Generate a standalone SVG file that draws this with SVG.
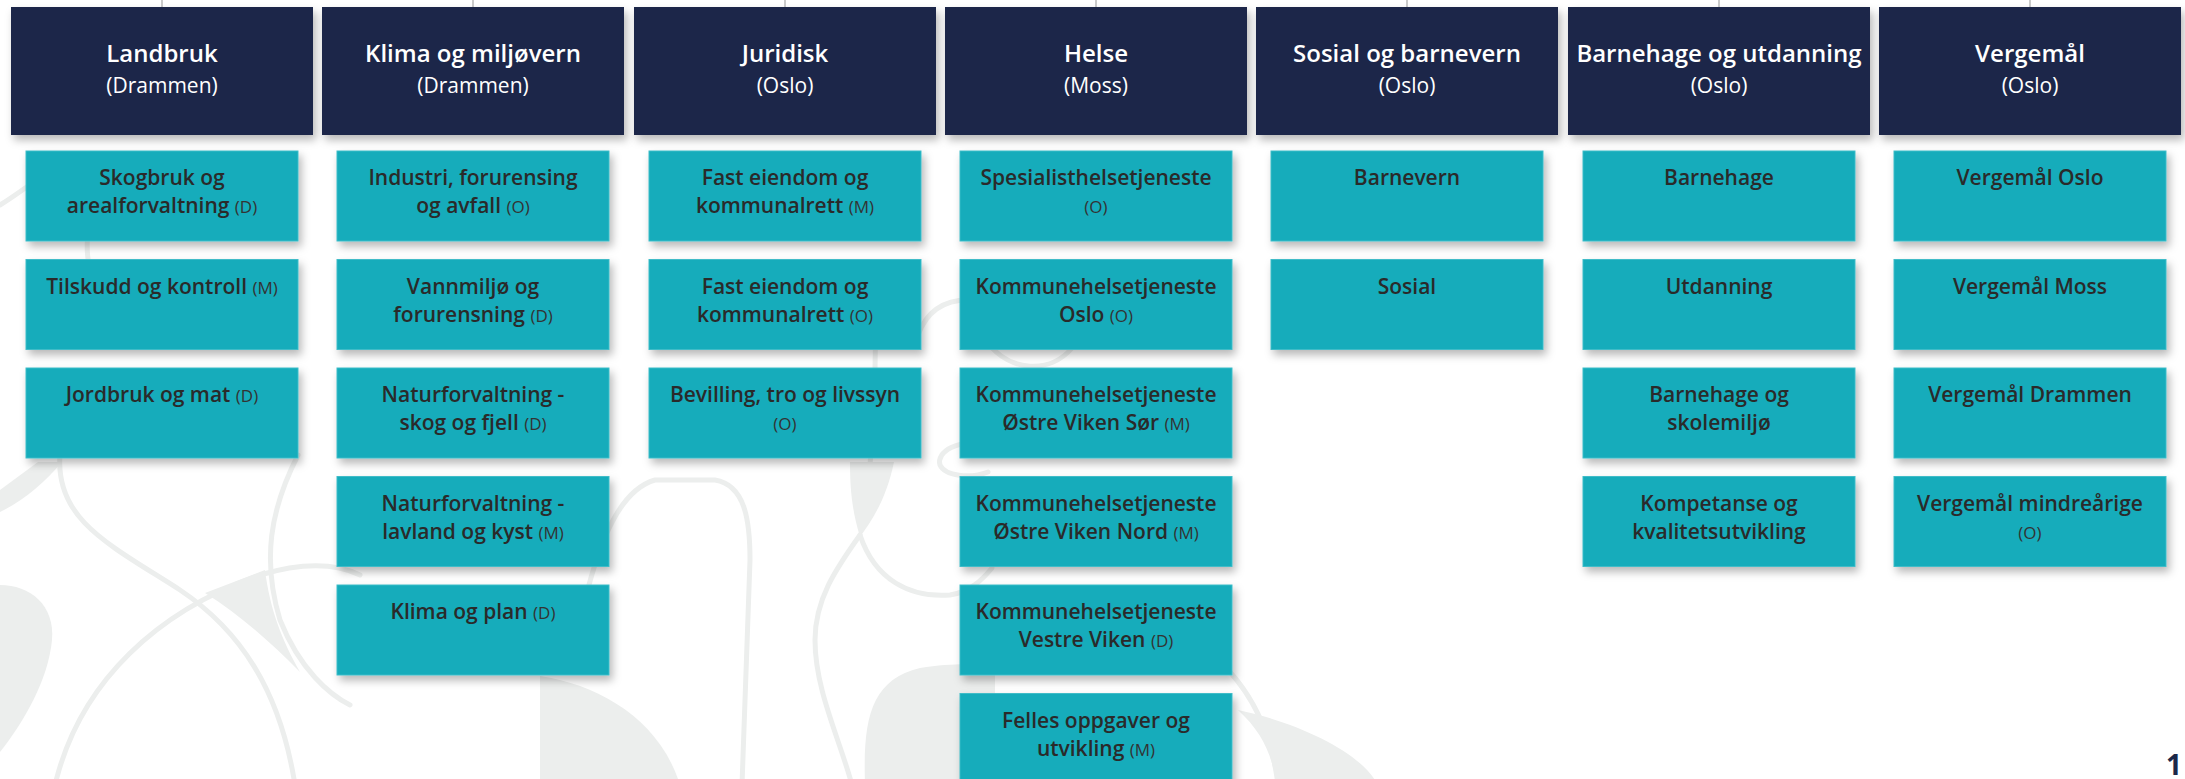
<svg xmlns="http://www.w3.org/2000/svg" width="2185" height="779" viewBox="0 0 2185 779">
<defs>
<filter id="sh" x="-10%" y="-15%" width="125%" height="140%">
<feDropShadow dx="3" dy="5" stdDeviation="4" flood-color="#000" flood-opacity="0.28"/>
</filter>
<style>
.bgl{fill:none;stroke:#eceeed;stroke-width:5;stroke-linecap:round}
.bgf{fill:#eceeed}
.hd rect{fill:#1c2849;filter:url(#sh)}
.hd text{fill:#ffffff;text-anchor:middle;font-family:'Open Sans','Noto Sans','DejaVu Sans',sans-serif}
.t{font-size:24px;font-weight:600}
.st{font-size:21px;font-weight:400}
.bx rect{fill:#12acbb;stroke:#3fbcc8;stroke-width:1;filter:url(#sh)}
.bx text{fill:#2a2a2a;text-anchor:middle;font-family:'Open Sans','Noto Sans','DejaVu Sans',sans-serif;font-size:21px;font-weight:600}
.sm{font-size:17px;font-weight:400;fill:#333333}
.cn line{stroke:#a8a8a8;stroke-width:1.2}
</style>
</defs>
<rect width="2185" height="779" fill="#ffffff"/>
<g id="background">
<path class="bgf" d="M0,585 C30,585 55,605 52,640 C48,680 25,720 0,752 Z"/>
<path class="bgf" d="M0,490 L0,512 C25,500 45,482 62,462 L38,462 Z"/>
<path class="bgl" d="M60,455 C55,520 110,545 180,590 C240,630 280,690 295,785"/>
<path class="bgl" d="M55,785 C80,680 160,610 260,575 C300,563 335,563 360,575"/>
<path class="bgl" d="M298,455 C270,510 262,560 280,620 C300,670 330,695 350,705"/>
<path class="bgf" d="M205,593 L265,570 C270,610 282,640 300,672 C268,640 240,615 205,593 Z"/>
<path class="bgl" d="M0,205 C12,198 22,190 34,182"/>
<path class="bgl" d="M88,230 C86,250 88,265 92,275"/>
<path class="bgl" d="M585,600 C600,540 620,490 655,480 L715,480 C745,485 750,520 750,560 L742,785"/>
<path class="bgf" d="M540,676 C600,685 660,720 680,785 L540,785 Z"/>
<path class="bgf" d="M850,462 L894,462 C886,500 872,520 860,537 C852,510 850,490 850,462 Z"/>
<path class="bgl" d="M860,535 C835,570 815,600 815,640 C815,690 840,740 852,785"/>
<path class="bgl" d="M860,535 C875,580 910,598 950,595 C970,592 982,580 992,568"/>
<path class="bgf" d="M865,785 C863,720 870,680 920,668 C950,663 970,664 995,665 L995,785 Z"/>
<path class="bgl" d="M988,445 C958,438 936,452 940,465 C945,476 970,479 988,472"/>
<path class="bgl" d="M875,300 C877,380 873,430 870,465"/>
<path class="bgl" d="M918,335 C928,308 948,300 968,300"/>
<path class="bgl" d="M988,343 C1010,372 1050,374 1072,348"/>
<path class="bgf" d="M1238,710 C1310,725 1385,765 1380,800 L1278,800 C1275,760 1265,735 1238,710 Z"/>
<path class="bgl" d="M1230,672 C1255,700 1272,735 1278,785"/>
</g>
<g id="connectors" class="cn">
<line x1="162" y1="0" x2="162" y2="7"/>
<line x1="473" y1="0" x2="473" y2="7"/>
<line x1="785" y1="0" x2="785" y2="7"/>
<line x1="1096" y1="0" x2="1096" y2="7"/>
<line x1="1407" y1="0" x2="1407" y2="7"/>
<line x1="1719" y1="0" x2="1719" y2="7"/>
<line x1="2030" y1="0" x2="2030" y2="7"/>
</g>
<g id="h-landbruk" class="hd"><rect x="11" y="7" width="302" height="128"/><text x="162" y="62" class="t">Landbruk</text><text x="162" y="93" class="st">(Drammen)</text></g>
<g id="h-klima" class="hd"><rect x="322" y="7" width="302" height="128"/><text x="473" y="62" class="t">Klima og miljøvern</text><text x="473" y="93" class="st">(Drammen)</text></g>
<g id="h-juridisk" class="hd"><rect x="634" y="7" width="302" height="128"/><text x="785" y="62" class="t">Juridisk</text><text x="785" y="93" class="st">(Oslo)</text></g>
<g id="h-helse" class="hd"><rect x="945" y="7" width="302" height="128"/><text x="1096" y="62" class="t">Helse</text><text x="1096" y="93" class="st">(Moss)</text></g>
<g id="h-sosial" class="hd"><rect x="1256" y="7" width="302" height="128"/><text x="1407" y="62" class="t">Sosial og barnevern</text><text x="1407" y="93" class="st">(Oslo)</text></g>
<g id="h-barnehage" class="hd"><rect x="1568" y="7" width="302" height="128"/><text x="1719" y="62" class="t">Barnehage og utdanning</text><text x="1719" y="93" class="st">(Oslo)</text></g>
<g id="h-vergemal" class="hd"><rect x="1879" y="7" width="302" height="128"/><text x="2030" y="62" class="t">Vergemål</text><text x="2030" y="93" class="st">(Oslo)</text></g>

<g id="landbruk-1" class="bx"><rect x="26" y="151" width="272" height="90"/><text x="162" y="185">Skogbruk og<tspan x="162" dy="28">arealforvaltning <tspan class="sm">(D)</tspan></tspan></text></g>
<g id="landbruk-2" class="bx"><rect x="26" y="259.5" width="272" height="90"/><text x="162" y="293.5">Tilskudd og kontroll <tspan class="sm">(M)</tspan></text></g>
<g id="landbruk-3" class="bx"><rect x="26" y="368" width="272" height="90"/><text x="162" y="402">Jordbruk og mat <tspan class="sm">(D)</tspan></text></g>

<g id="klima-1" class="bx"><rect x="337" y="151" width="272" height="90"/><text x="473" y="185">Industri, forurensing<tspan x="473" dy="28">og avfall <tspan class="sm">(O)</tspan></tspan></text></g>
<g id="klima-2" class="bx"><rect x="337" y="259.5" width="272" height="90"/><text x="473" y="293.5">Vannmiljø og<tspan x="473" dy="28">forurensning <tspan class="sm">(D)</tspan></tspan></text></g>
<g id="klima-3" class="bx"><rect x="337" y="368" width="272" height="90"/><text x="473" y="402">Naturforvaltning -<tspan x="473" dy="28">skog og fjell <tspan class="sm">(D)</tspan></tspan></text></g>
<g id="klima-4" class="bx"><rect x="337" y="476.5" width="272" height="90"/><text x="473" y="510.5">Naturforvaltning -<tspan x="473" dy="28">lavland og kyst <tspan class="sm">(M)</tspan></tspan></text></g>
<g id="klima-5" class="bx"><rect x="337" y="585" width="272" height="90"/><text x="473" y="619">Klima og plan <tspan class="sm">(D)</tspan></text></g>

<g id="juridisk-1" class="bx"><rect x="649" y="151" width="272" height="90"/><text x="785" y="185">Fast eiendom og<tspan x="785" dy="28">kommunalrett <tspan class="sm">(M)</tspan></tspan></text></g>
<g id="juridisk-2" class="bx"><rect x="649" y="259.5" width="272" height="90"/><text x="785" y="293.5">Fast eiendom og<tspan x="785" dy="28">kommunalrett <tspan class="sm">(O)</tspan></tspan></text></g>
<g id="juridisk-3" class="bx"><rect x="649" y="368" width="272" height="90"/><text x="785" y="402">Bevilling, tro og livssyn<tspan x="785" dy="28" class="sm">(O)</tspan></text></g>

<g id="helse-1" class="bx"><rect x="960" y="151" width="272" height="90"/><text x="1096" y="185">Spesialisthelsetjeneste<tspan x="1096" dy="28" class="sm">(O)</tspan></text></g>
<g id="helse-2" class="bx"><rect x="960" y="259.5" width="272" height="90"/><text x="1096" y="293.5">Kommunehelsetjeneste<tspan x="1096" dy="28">Oslo <tspan class="sm">(O)</tspan></tspan></text></g>
<g id="helse-3" class="bx"><rect x="960" y="368" width="272" height="90"/><text x="1096" y="402">Kommunehelsetjeneste<tspan x="1096" dy="28">Østre Viken Sør <tspan class="sm">(M)</tspan></tspan></text></g>
<g id="helse-4" class="bx"><rect x="960" y="476.5" width="272" height="90"/><text x="1096" y="510.5">Kommunehelsetjeneste<tspan x="1096" dy="28">Østre Viken Nord <tspan class="sm">(M)</tspan></tspan></text></g>
<g id="helse-5" class="bx"><rect x="960" y="585" width="272" height="90"/><text x="1096" y="619">Kommunehelsetjeneste<tspan x="1096" dy="28">Vestre Viken <tspan class="sm">(D)</tspan></tspan></text></g>
<g id="helse-6" class="bx"><rect x="960" y="693.5" width="272" height="90"/><text x="1096" y="727.5">Felles oppgaver og<tspan x="1096" dy="28">utvikling <tspan class="sm">(M)</tspan></tspan></text></g>

<g id="sosial-1" class="bx"><rect x="1271" y="151" width="272" height="90"/><text x="1407" y="185">Barnevern</text></g>
<g id="sosial-2" class="bx"><rect x="1271" y="259.5" width="272" height="90"/><text x="1407" y="293.5">Sosial</text></g>

<g id="barnehage-1" class="bx"><rect x="1583" y="151" width="272" height="90"/><text x="1719" y="185">Barnehage</text></g>
<g id="barnehage-2" class="bx"><rect x="1583" y="259.5" width="272" height="90"/><text x="1719" y="293.5">Utdanning</text></g>
<g id="barnehage-3" class="bx"><rect x="1583" y="368" width="272" height="90"/><text x="1719" y="402">Barnehage og<tspan x="1719" dy="28">skolemiljø</tspan></text></g>
<g id="barnehage-4" class="bx"><rect x="1583" y="476.5" width="272" height="90"/><text x="1719" y="510.5">Kompetanse og<tspan x="1719" dy="28">kvalitetsutvikling</tspan></text></g>

<g id="vergemal-1" class="bx"><rect x="1894" y="151" width="272" height="90"/><text x="2030" y="185">Vergemål Oslo</text></g>
<g id="vergemal-2" class="bx"><rect x="1894" y="259.5" width="272" height="90"/><text x="2030" y="293.5">Vergemål Moss</text></g>
<g id="vergemal-3" class="bx"><rect x="1894" y="368" width="272" height="90"/><text x="2030" y="402">Vergemål Drammen</text></g>
<g id="vergemal-4" class="bx"><rect x="1894" y="476.5" width="272" height="90"/><text x="2030" y="510.5">Vergemål mindreårige<tspan x="2030" dy="28" class="sm">(O)</tspan></text></g>

<text x="2166" y="775" font-family="'Open Sans','Noto Sans',sans-serif" font-size="28" font-weight="700" fill="#1c2849">1</text>
</svg>
